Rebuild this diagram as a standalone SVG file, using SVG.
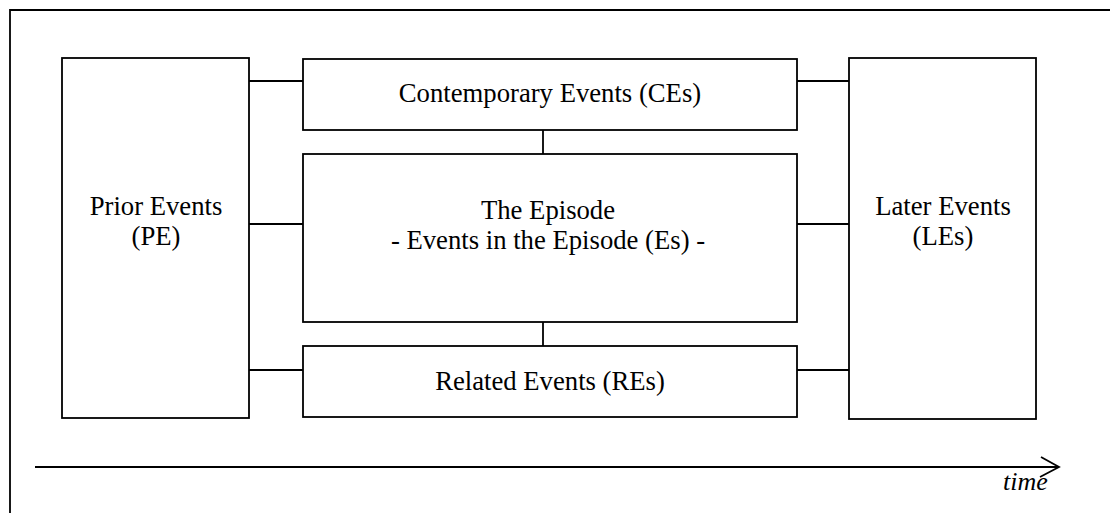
<svg xmlns="http://www.w3.org/2000/svg" width="1110" height="513" viewBox="0 0 1110 513">
<defs>
<style>
.box{fill:#fff;stroke:#000;stroke-width:1.8}
.con{fill:none;stroke:#000;stroke-width:1.8}
.t{font-family:"Liberation Serif","Times New Roman",serif;font-size:26.7px;fill:#000;text-anchor:middle}
.ti{font-family:"Liberation Serif","Times New Roman",serif;font-size:26px;font-style:italic;fill:#000}
</style>
</defs>
<rect width="1110" height="513" fill="#fff"/>
<path d="M10,530 V10 H1130" fill="none" stroke="#000" stroke-width="1.8"/>
<g id="connectors">
<line class="con" x1="249" y1="81" x2="303" y2="81"/>
<line class="con" x1="249" y1="224" x2="303" y2="224"/>
<line class="con" x1="249" y1="370" x2="303" y2="370"/>
<line class="con" x1="797" y1="81" x2="849" y2="81"/>
<line class="con" x1="797" y1="224" x2="849" y2="224"/>
<line class="con" x1="797" y1="370" x2="849" y2="370"/>
<line class="con" x1="543" y1="130" x2="543" y2="154"/>
<line class="con" x1="543" y1="322" x2="543" y2="346"/>
</g>
<g id="pe">
<rect class="box" x="62" y="58" width="187" height="360"/>
<text class="t" x="156" y="215">Prior Events</text>
<text class="t" x="156" y="245">(PE)</text>
</g>
<g id="ce">
<rect class="box" x="303" y="59" width="494" height="71"/>
<text class="t" x="550" y="102">Contemporary Events (CEs)</text>
</g>
<g id="episode">
<rect class="box" x="303" y="154" width="494" height="168"/>
<text class="t" x="548" y="219">The Episode</text>
<text class="t" x="548" y="249">- Events in the Episode (Es) -</text>
</g>
<g id="re">
<rect class="box" x="303" y="346" width="494" height="71"/>
<text class="t" x="550" y="390">Related Events (REs)</text>
</g>
<g id="le">
<rect class="box" x="849" y="58" width="187" height="361"/>
<text class="t" x="943" y="215">Later Events</text>
<text class="t" x="943" y="245">(LEs)</text>
</g>
<g id="time-axis">
<line class="con" x1="35" y1="467" x2="1058" y2="467"/>
<polyline class="con" points="1041,457 1059,467 1040,477"/>
<text class="ti" x="1003" y="490">time</text>
</g>
</svg>
